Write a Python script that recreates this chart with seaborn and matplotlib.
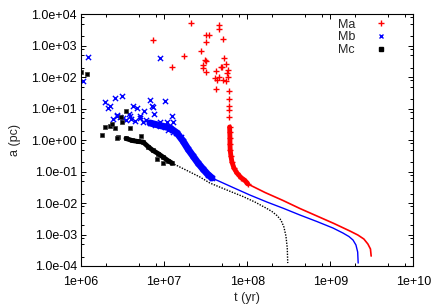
import numpy as np
import pandas as pd
import matplotlib
matplotlib.use("Agg")
import matplotlib.pyplot as plt
from matplotlib.ticker import LogLocator, FuncFormatter, NullFormatter
from matplotlib.lines import Line2D
import seaborn as sns

# ---------------------------------------------------------------
# values: t in yr, a in pc
# ---------------------------------------------------------------
# Ma - scattered points
ma_t = [2.11e7, 4.61e7, 4.54e7, 7.29e6, 3.22e7, 3.47e7, 5.07e7, 3.22e7, 2.78e7, 1.75e7,
        5.26e7, 3.08e7, 3.17e7, 5.56e7, 2.92e7, 2.96e7, 1.24e7, 4.80e7, 4.93e7, 4.22e7,
        3.22e7, 5.88e7, 5.71e7, 5.96e7, 4.60e7, 4.05e7, 4.30e7, 5.15e7, 5.59e7, 4.22e7,
        6.04e7, 6.09e7, 6.09e7, 6.09e7, 6.12e7]
ma_a = [5.18e3, 4.41e3, 3.33e3, 1.52e3, 2.20e3, 2.20e3, 1.67e3, 1.32e3, 681, 483,
        399, 352, 328, 258, 244, 192, 207, 216, 204, 154,
        147, 166, 133, 103, 104, 92.4, 78.7, 81.6, 76.9, 42.3,
        37.8, 19.9, 12.6, 9.42, 5.36]
# Ma - dense pile of points
ma_band_t = [6.15e7, 6.18e7, 6.21e7, 6.21e7, 6.25e7, 6.38e7, 6.56e7, 6.93e7, 7.54e7, 8.42e7,
             9.42e7, 1.02e8]
ma_band_a = [2.62, 1.82, 1.17, 0.754, 0.486, 0.313, 0.202, 0.130, 0.0902, 0.0648,
             0.0521, 0.0404]
# Ma - late evolution
ma_tail_t = [1.02e8, 1.64e8, 2.70e8, 4.32e8, 6.92e8, 1.11e9, 1.73e9, 2.15e9, 2.54e9, 2.84e9,
             3.05e9, 3.11e9]
ma_tail_a = [0.0404, 0.0217, 0.0121, 6.71e-3, 3.88e-3, 2.24e-3, 1.29e-3, 9.66e-4, 7.21e-4, 5.00e-4,
             3.47e-4, 2.07e-4]

# Mb - scattered points
mb_t = [1.20e6, 1.05e6, 8.85e6, 1.93e6, 2.10e6, 2.23e6, 2.55e6, 3.14e6, 4.17e6, 4.69e6,
        6.71e6, 1.02e7, 7.15e6, 7.45e6, 5.81e6, 3.78e6, 3.94e6, 2.73e6, 7.66e6, 1.23e7,
        5.13e6, 2.74e6, 3.20e6, 3.51e6, 4.03e6, 4.43e6, 5.08e6, 5.57e6, 6.11e6, 7.71e6,
        8.85e6, 1.02e7, 1.07e7, 1.29e7, 1.11e7, 1.28e7, 1.40e7, 1.61e7, 2.94e6, 2.46e6]
mb_a = [430, 76.9, 408, 16.0, 10.5, 11.9, 21.1, 25.6, 12.4, 10.9,
        18.9, 17.5, 12.0, 11.5, 8.26, 6.78, 6.07, 5.94, 6.62, 5.72,
        5.85, 6.30, 4.94, 4.36, 4.59, 4.15, 4.94, 3.85, 4.36, 3.03,
        3.85, 2.67, 3.85, 3.85, 2.10, 1.85, 1.65, 1.29, 5.25, 4.70]
# Mb - dense pile of points
mb_band_t = [6.76e6, 8.93e6, 1.18e7, 1.43e7, 1.69e7, 1.94e7, 2.23e7, 2.56e7, 2.94e7, 3.37e7,
             3.77e7]
mb_band_a = [3.51, 2.92, 2.43, 1.69, 0.940, 0.523, 0.313, 0.188, 0.121, 0.0809,
             0.0627]
# Mb - late evolution
mb_tail_t = [3.77e7, 6.75e7, 1.08e8, 1.73e8, 2.77e8, 4.32e8, 6.92e8, 1.08e9, 1.42e9, 1.68e9,
             1.88e9, 2.04e9, 2.14e9, 2.17e9]
mb_tail_a = [0.0627, 0.0313, 0.0180, 0.0108, 6.71e-3, 4.17e-3, 2.59e-3, 1.61e-3, 1.12e-3, 8.65e-4,
             6.70e-4, 4.65e-4, 2.78e-4, 1.24e-4]

# Mc - scattered points
mc_t = [1.01e6, 1.19e6, 1.80e6, 1.93e6, 2.23e6, 2.36e6, 2.56e6, 3.44e6, 2.99e6, 3.11e6,
        3.92e6, 2.79e6, 2.69e6, 5.22e6, 8.22e6, 9.71e6]
mc_a = [152, 131, 1.51, 2.67, 2.81, 3.30, 2.38, 8.75, 5.45, 3.64,
        2.38, 1.29, 1.13, 1.36, 0.246, 0.184]
# Mc - dense pile of points
mc_band_t = [3.48e6, 4.11e6, 4.85e6, 5.57e6, 6.40e6, 7.35e6, 8.45e6, 9.71e6, 1.11e7, 1.24e7]
mc_band_a = [1.13, 0.975, 0.906, 0.873, 0.628, 0.469, 0.376, 0.291, 0.225, 0.188]
# Mc - late evolution
mc_tail_t = [1.24e7, 1.55e7, 2.05e7, 2.70e7, 3.56e7, 4.98e7, 6.75e7, 8.89e7, 1.24e8, 1.73e8,
             1.99e8, 2.28e8, 2.55e8, 2.77e8, 2.93e8, 3.04e8, 3.08e8]
mc_tail_a = [0.188, 0.140, 0.0970, 0.0673, 0.0434, 0.0301, 0.0217, 0.0162, 0.0108, 6.71e-3,
             5.39e-3, 4.03e-3, 2.90e-3, 1.73e-3, 8.97e-4, 3.73e-4, 1.24e-4]

labels = ["Ma", "Mb", "Mc"]
colors = {"Ma": "#ff0000", "Mb": "#0000ff", "Mc": "#000000"}

sns.set_theme(style="ticks")
plt.rcParams["font.family"] = ["Liberation Sans", "DejaVu Sans"]

fig = plt.figure(figsize=(4.36, 3.05), dpi=100)
ax = fig.add_axes([81 / 436, 1 - 266 / 305, 332.3 / 436, 251.7 / 305])

pts = pd.concat([
    pd.DataFrame({"t": ma_t + ma_band_t, "a": ma_a + ma_band_a, "set": "Ma"}),
    pd.DataFrame({"t": mb_t + mb_band_t, "a": mb_a + mb_band_a, "set": "Mb"}),
    pd.DataFrame({"t": mc_t + mc_band_t, "a": mc_a + mc_band_a, "set": "Mc"}),
])

# late tracks
sns.lineplot(x=ma_tail_t, y=ma_tail_a, ax=ax, color=colors["Ma"], lw=1.2, sort=False, estimator=None)
sns.lineplot(x=mb_tail_t, y=mb_tail_a, ax=ax, color=colors["Mb"], lw=1.0, sort=False, estimator=None)
sns.lineplot(x=mc_tail_t, y=mc_tail_a, ax=ax, color=colors["Mc"], lw=1.0, ls=(0, (1, 1)),
             sort=False, estimator=None)

# dense piles drawn as thick strokes
sns.lineplot(x=ma_band_t, y=ma_band_a, ax=ax, color=colors["Ma"], lw=3.5, sort=False, estimator=None)
sns.lineplot(x=mb_band_t, y=mb_band_a, ax=ax, color=colors["Mb"], lw=5.0, sort=False, estimator=None)
sns.lineplot(x=mc_band_t, y=mc_band_a, ax=ax, color=colors["Mc"], lw=3.5, sort=False, estimator=None)

d = pts[pts["set"] == "Ma"]
sns.scatterplot(data=d, x="t", y="a", ax=ax, marker="+", color=colors["Ma"], s=16, linewidth=1.0)
d = pts[pts["set"] == "Mb"]
sns.scatterplot(data=d, x="t", y="a", ax=ax, marker="x", color=colors["Mb"], s=14, linewidth=1.0)
d = pts[pts["set"] == "Mc"]
sns.scatterplot(data=d, x="t", y="a", ax=ax, marker="s", color=colors["Mc"], s=9, linewidth=0.5,
                edgecolor="#333333")

ax.set_xscale("log")
ax.set_yscale("log")
ax.set_xlim(1e6, 1e10)
ax.set_ylim(1e-4, 1e4)

ax.xaxis.set_major_locator(LogLocator(base=10, numticks=10))
ax.xaxis.set_minor_locator(LogLocator(base=10, subs=(2, 5, 8), numticks=10))
ax.yaxis.set_major_locator(LogLocator(base=10, numticks=12))
ax.yaxis.set_minor_locator(LogLocator(base=10, subs=(2, 5, 8), numticks=12))
ax.xaxis.set_major_formatter(FuncFormatter(lambda v, p: "1e+%02d" % round(np.log10(v))))
ax.yaxis.set_major_formatter(FuncFormatter(
    lambda v, p: "1.0e%s%02d" % ("+" if np.log10(v) >= 0 else "-", abs(round(np.log10(v))))))
ax.xaxis.set_minor_formatter(NullFormatter())
ax.yaxis.set_minor_formatter(NullFormatter())

ax.tick_params(which="both", direction="in", top=True, right=True, labelsize=9, colors="black",
               width=0.7, pad=3)
ax.tick_params(axis="x", which="major", pad=7)
ax.tick_params(which="major", length=3.6)
ax.tick_params(which="minor", length=2.2)
for sp in ax.spines.values():
    sp.set_visible(True)
    sp.set_linewidth(0.8)
    sp.set_color("black")

ax.set_xlabel("t (yr)", fontsize=9, labelpad=3)
ax.set_ylabel("a (pc)", fontsize=9, labelpad=7)

handles = [
    Line2D([], [], ls="none", marker="+", color=colors["Ma"], ms=4, mew=1.0),
    Line2D([], [], ls="none", marker="x", color=colors["Mb"], ms=3.5, mew=1.0),
    Line2D([], [], ls="none", marker="s", color=colors["Mc"], ms=3.0),
]
ax.legend(handles, labels, loc="upper right", bbox_to_anchor=(0.945, 1.012), frameon=False,
          markerfirst=False, fontsize=9, handlelength=1.0, handletextpad=1.6,
          labelspacing=0.05, borderaxespad=0.2)

fig.savefig("out.png", dpi=100)
